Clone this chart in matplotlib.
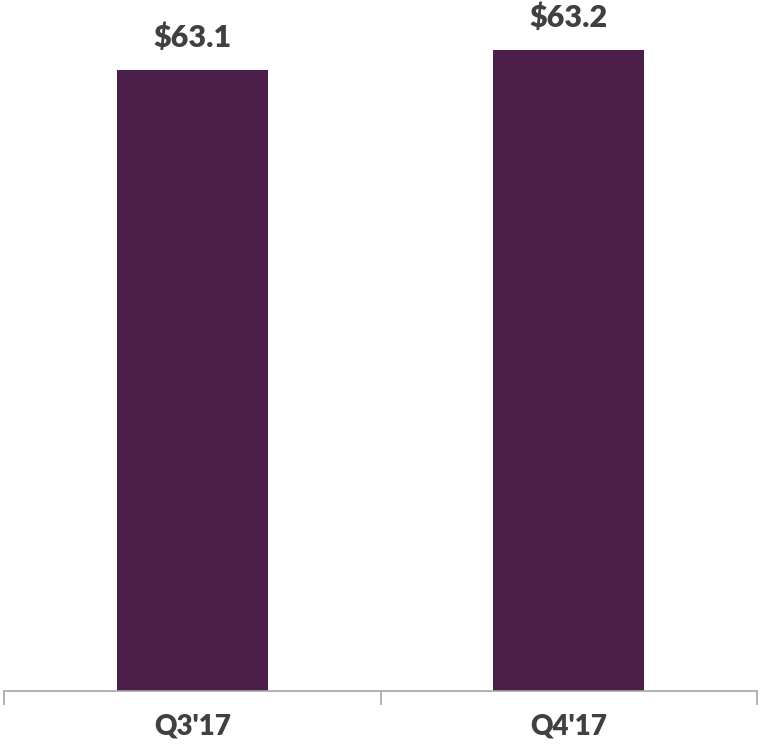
import matplotlib.pyplot as plt

quarters = ["Q3'17", "Q4'17"]
values = [63.1, 63.2]
labels = ["$63.1", "$63.2"]

bar_color = "#4B1F4A"
text_color = "#404040"

fig = plt.figure(figsize=(7.61, 7.5), dpi=100)
ax = fig.add_axes([4 / 761, 59 / 750, 753 / 761, 691 / 750])

x = range(len(quarters))
bars = ax.bar(x, [v - 60 for v in values], bottom=60, width=0.4, color=bar_color)

for b, lab in zip(bars, labels):
    ax.annotate(lab, (b.get_x() + b.get_width() / 2, b.get_y() + b.get_height()),
                xytext=(0, 13), textcoords="offset points", ha="center", va="bottom",
                fontsize=22, fontweight="heavy", color=text_color, family="Lato")

ax.set_xlim(-0.5, 1.5)
ax.set_ylim(60, 63.45)

for s in ["top", "right", "left"]:
    ax.spines[s].set_visible(False)
ax.spines["bottom"].set_color("#A6A6A6")
ax.spines["bottom"].set_linewidth(1.2)

ax.set_yticks([])
ax.set_xticks([-0.5, 0.5, 1.5])
ax.set_xticklabels([])
ax.tick_params(axis="x", length=10, width=1.2, color="#A6A6A6", direction="out")
ax.set_xticks(list(x), minor=True)
ax.set_xticklabels(quarters, minor=True, fontsize=20, fontweight="heavy", color=text_color, family="Lato")
ax.tick_params(axis="x", which="minor", length=0, pad=16)

fig.savefig("out.png", dpi=100)
